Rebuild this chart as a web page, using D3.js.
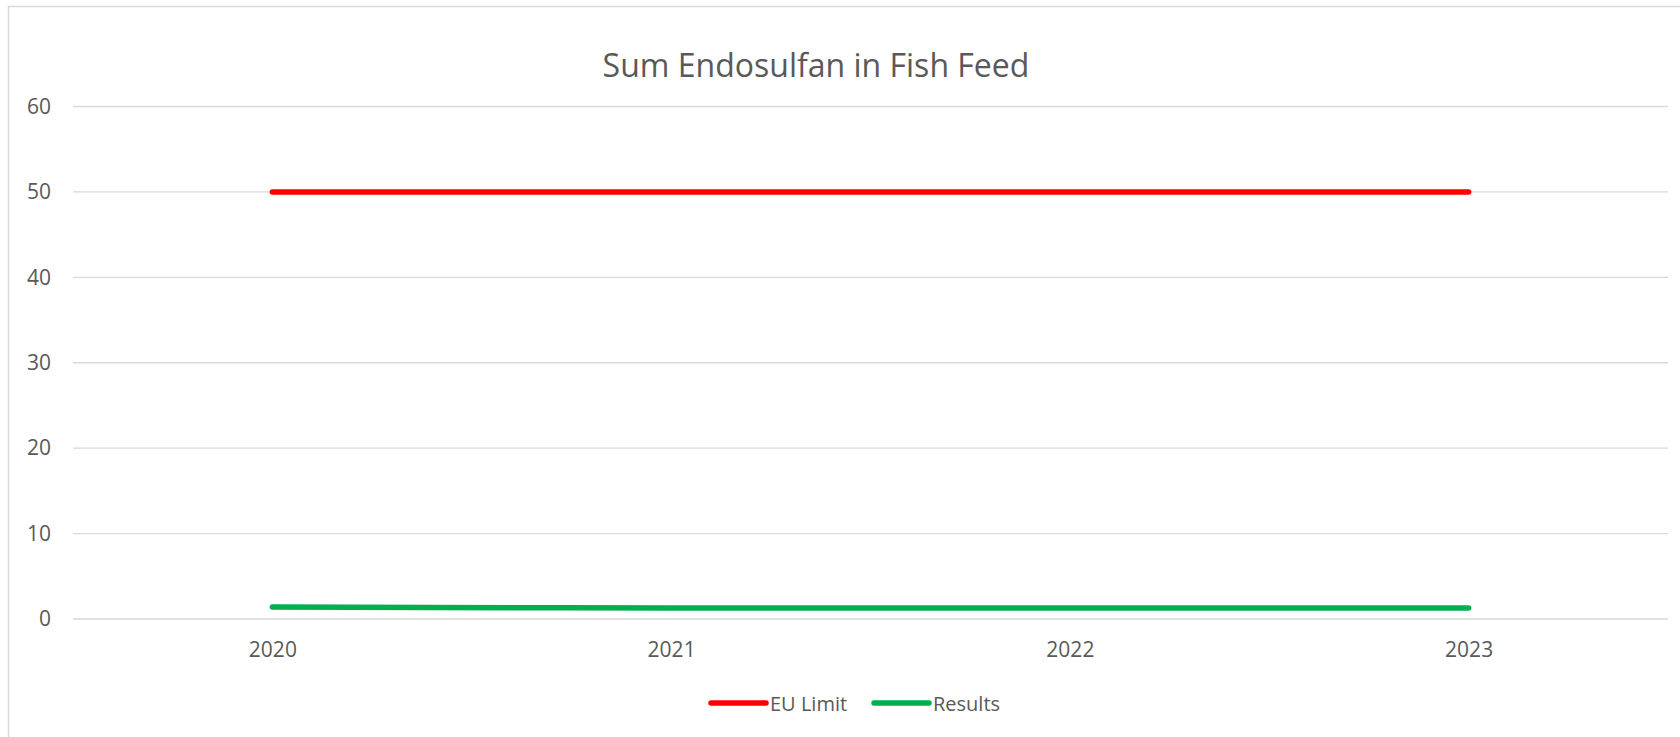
<!DOCTYPE html>
<html lang="en">
<head>
    <meta charset="utf-8">
    <title>Sum Endosulfan in Fish Feed</title>
    <style>
        html, body { margin: 0; padding: 0; background: #fff; }
        #chart { width: 1680px; height: 737px; }
        text { font-family: "Open Sans", "Noto Sans", sans-serif; fill: #595959; }
    </style>
    <script src="https://cdn.jsdelivr.net/npm/d3@7"></script>
</head>
<body>
<div id="chart"></div>
<script>
    // data
    var years = ["2020", "2021", "2022", "2023"];
    var euLimit = [50, 50, 50, 50];
    var results = [1.4, 1.3, 1.3, 1.3];
    var yTicks = [0, 10, 20, 30, 40, 50, 60];
    var seriesNames = ["EU Limit", "Results"];
    var seriesColors = ["#ff0000", "#00b050"];

    var W = 1680, H = 737;
    // plot area (note: "top" is taken by window.top)
    var plotL = 73, plotR = 1668, plotT = 106.5, plotB = 619;

    var svg = d3.select("#chart").append("svg")
        .attr("width", W)
        .attr("height", H);

    // chart frame (only top and left edges are visible)
    svg.append("rect")
        .attr("x", 8.5).attr("y", 6.5)
        .attr("width", 1700).attr("height", 800)
        .attr("fill", "none")
        .attr("stroke", "#d9d9d9")
        .attr("stroke-width", 1.5);

    var x = d3.scalePoint().domain(years).range([plotL, plotR]).padding(0.5);
    var y = d3.scaleLinear().domain([0, 60]).range([plotB, plotT]);

    // gridlines
    svg.append("g")
        .selectAll("line")
        .data(yTicks)
        .enter()
        .append("line")
        .attr("x1", plotL).attr("x2", plotR)
        .attr("y1", function (d) { return y(d); })
        .attr("y2", function (d) { return y(d); })
        .attr("stroke", "#d9d9d9")
        .attr("stroke-width", 1.3);

    // y axis labels
    var yAxis = d3.axisLeft(y).tickValues(yTicks).tickSize(0).tickPadding(0);
    var gy = svg.append("g").attr("transform", "translate(51,0)").call(yAxis);
    gy.select(".domain").remove();
    gy.selectAll("text")
        .attr("font-size", 21)
        .style("font-family", "'Open Sans', sans-serif")
        .attr("fill", "#595959");

    // x axis labels
    var xAxis = d3.axisBottom(x).tickSize(0).tickPadding(0);
    var gx = svg.append("g").attr("transform", "translate(0," + 642 + ")").call(xAxis);
    gx.select(".domain").remove();
    gx.selectAll("text")
        .attr("font-size", 21)
        .style("font-family", "'Open Sans', sans-serif")
        .attr("fill", "#595959");

    // lines
    var line = d3.line()
        .x(function (d, i) { return x(years[i]); })
        .y(function (d) { return y(d); })
        .curve(d3.curveMonotoneX);

    [euLimit, results].forEach(function (s, k) {
        svg.append("path")
            .datum(s)
            .attr("d", line)
            .attr("fill", "none")
            .attr("stroke", seriesColors[k])
            .attr("stroke-width", 5.5)
            .attr("stroke-linecap", "round")
            .attr("stroke-linejoin", "round");
    });

    // title, sized to the width it has in the picture
    var title = svg.append("text")
        .attr("x", 816)
        .attr("y", 76.5)
        .attr("text-anchor", "middle")
        .attr("font-size", 32)
        .text("Sum Endosulfan in Fish Feed");
    var tw = title.node().getComputedTextLength();
    title.attr("font-size", 32 * 427 / tw);

    // legend
    var legendX = [711, 874];
    var lg = svg.append("g");
    seriesNames.forEach(function (name, k) {
        lg.append("line")
            .attr("x1", legendX[k]).attr("x2", legendX[k] + 55)
            .attr("y1", 703).attr("y2", 703)
            .attr("stroke", seriesColors[k])
            .attr("stroke-width", 5.5)
            .attr("stroke-linecap", "round");
        lg.append("text")
            .attr("x", legendX[k] + 59)
            .attr("y", 711)
            .attr("font-size", 20)
            .text(name);
    });
</script>
</body>
</html>
